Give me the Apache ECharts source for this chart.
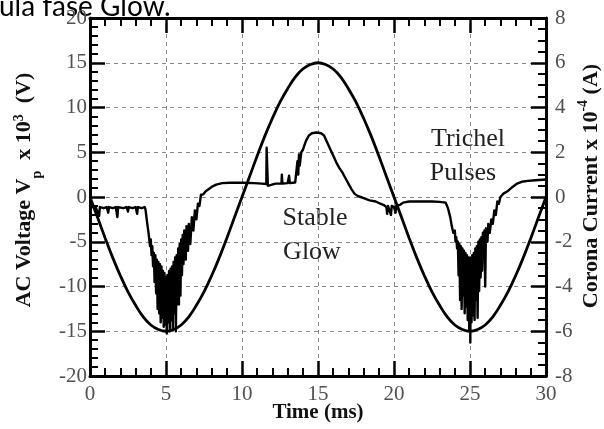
<!DOCTYPE html>
<html>
<head>
<meta charset="utf-8">
<script src="https://cdn.jsdelivr.net/npm/echarts@6/dist/echarts.min.js"></script>
<style>
  html, body { margin: 0; padding: 0; background: #ffffff; }
  #chart { width: 604px; height: 429px; }
</style>
</head>
<body>
<div id="chart"></div>
<script>
// Time axis (ms) and tick values
const timeTicks = [0, 5, 10, 15, 20, 25, 30];
const voltageTicks = [-20, -15, -10, -5, 0, 5, 10, 15, 20];
const currentTicks = [-8, -6, -4, -2, 0, 2, 4, 6, 8];

// Applied AC voltage, kV (sampled every 0.5 ms)
const voltageTime = [
  0, 0.5, 1, 1.5, 2, 2.5, 3, 3.5, 4, 4.5, 5, 5.5, 6, 6.5, 7, 7.5, 8, 8.5, 9, 9.5,
  10, 10.5, 11, 11.5, 12, 12.5, 13, 13.5, 14, 14.5, 15, 15.5, 16, 16.5, 17, 17.5, 18, 18.5, 19, 19.5,
  20, 20.5, 21, 21.5, 22, 22.5, 23, 23.5, 24, 24.5, 25, 25.5, 26, 26.5, 27, 27.5, 28, 28.5, 29, 29.5, 30
];
const voltage = [
  0, -2.3, -4.6, -6.8, -8.8, -10.6, -12.1, -13.4, -14.3, -14.8, -15.0, -14.8, -14.3, -13.4, -12.1, -10.6, -8.8, -6.8, -4.6, -2.3,
  0, 2.3, 4.6, 6.8, 8.8, 10.6, 12.1, 13.4, 14.3, 14.8, 15.0, 14.8, 14.3, 13.4, 12.1, 10.6, 8.8, 6.8, 4.6, 2.3,
  0, -2.3, -4.6, -6.8, -8.8, -10.6, -12.1, -13.4, -14.3, -14.8, -15.0, -14.8, -14.3, -13.4, -12.1, -10.6, -8.8, -6.8, -4.6, -2.3, 0
];

// Corona current, x1e-4 A
const currentTime = [
  0, 0.2, 0.4, 0.5, 0.6, 0.65, 0.9, 1.1, 1.2, 1.25, 1.5, 1.7, 1.8, 1.85, 2.2, 2.4, 2.5, 2.55, 2.8, 3.0, 3.1, 3.15, 3.4, 3.6, 3.65,
  3.75, 3.85, 3.95, 4.0, 4.05, 4.1, 4.15,
  4.2, 4.25, 4.3, 4.35, 4.4, 4.45, 4.5, 4.55, 4.6, 4.65, 4.7, 4.75, 4.8, 4.85, 4.9, 4.95, 5.0, 5.05, 5.1, 5.15,
  5.2, 5.25, 5.3, 5.35, 5.4, 5.45, 5.5, 5.55, 5.6, 5.65, 5.7, 5.75, 5.8, 5.85, 5.9, 5.95, 6.0, 6.05, 6.1, 6.15,
  6.2, 6.3, 6.35, 6.45, 6.5, 6.6, 6.7, 6.8, 6.9, 7.0, 7.1, 7.2, 7.3, 7.45, 7.6, 7.8, 8.0, 8.3, 8.7, 9.2, 10.0,
  10.8, 11.3, 11.6, 11.62, 11.68, 11.7, 11.8, 12.2, 12.6, 12.62, 12.66, 13.0, 13.1, 13.14, 13.5, 13.6, 13.65, 13.7,
  13.75, 13.8, 13.9, 14.0, 14.2, 14.4, 14.6, 14.9, 15.2, 15.4, 15.6, 15.8, 16.0, 16.2, 16.4, 16.6, 16.8, 17.0,
  17.2, 17.4, 17.6, 17.8, 18.0, 18.4, 18.8, 19.1, 19.3, 19.5, 19.55, 19.6, 19.7, 19.8, 19.85, 20.0, 20.1, 20.15,
  20.4, 20.6, 21.0, 21.5, 22.0, 22.5, 23.0, 23.4,
  23.55, 23.7, 23.8, 23.9, 24.0, 24.05, 24.1, 24.15,
  24.2, 24.25, 24.3, 24.35, 24.4, 24.45, 24.5, 24.55, 24.6, 24.65, 24.7, 24.75, 24.8, 24.85, 24.9, 24.95, 25.0, 25.02,
  25.05, 25.1, 25.15, 25.2, 25.25, 25.3, 25.35, 25.4, 25.45, 25.5, 25.55, 25.6, 25.65, 25.7, 25.75, 25.8, 25.85, 25.9,
  25.95, 26.0, 26.05, 26.15, 26.2, 26.3, 26.4, 26.5, 26.6, 26.7, 26.8, 26.9, 27.0, 27.2, 27.5, 27.8, 28.1, 28.4,
  28.8, 29.3, 30
];
const current = [
  -0.4, -0.45, -0.5, -0.45, -0.85, -0.45, -0.5, -0.45, -0.7, -0.45, -0.5, -0.45, -0.9, -0.45, -0.5, -0.45, -0.65, -0.45, -0.5, -0.45, -0.75, -0.45, -0.5, -0.45, -0.55,
  -1.1, -1.6, -2.2, -1.9, -2.6, -2.2, -3.1,
  -2.5, -3.8, -2.6, -4.3, -2.8, -5.0, -2.9, -5.2, -3.0, -5.6, -3.1, -5.4, -3.3, -5.8, -3.4, -5.7, -3.6, -6.1, -3.5, -5.6,
  -3.3, -6.0, -3.2, -5.5, -3.1, -5.9, -2.9, -5.2, -2.7, -6.0, -2.6, -4.8, -2.3, -4.8, -2.1, -4.4, -1.9, -3.5, -1.7, -3.0,
  -1.5, -2.8, -1.3, -2.4, -1.2, -2.1, -0.9, -1.5, -0.6, -1.0, -0.3, -0.4, 0.1, 0.12, 0.25, 0.35, 0.45, 0.55, 0.62, 0.64, 0.64,
  0.62, 0.6, 0.58, 2.2, 2.2, 0.5, 0.55, 0.6, 0.6, 1.0, 0.6, 0.62, 0.95, 0.62, 0.65, 0.7, 1.6, 1.0,
  1.9, 1.4, 2.0, 2.1, 2.5, 2.75, 2.85, 2.88, 2.85, 2.75, 2.45, 2.15, 1.85, 1.55, 1.3, 1.1, 0.85, 0.6,
  0.35, 0.15, 0.05, 0.0, -0.05, -0.15, -0.2, -0.3, -0.35, -0.45, -0.75, -0.4, -0.45, -0.8, -0.4, -0.45, -0.7, -0.4,
  -0.35, -0.25, -0.2, -0.2, -0.2, -0.2, -0.22, -0.25,
  -0.5, -0.9, -1.3, -1.6, -1.5, -2.0, -1.8, -2.3,
  -2.0, -3.5, -2.1, -4.6, -2.2, -5.0, -2.3, -4.4, -2.4, -5.2, -2.5, -4.9, -2.6, -5.5, -2.7, -5.9, -2.7, -6.5,
  -2.8, -5.6, -2.6, -5.3, -2.5, -5.5, -2.3, -4.6, -2.2, -5.4, -2.0, -4.2, -1.9, -3.6, -1.8, -3.3, -1.6, -2.5,
  -1.5, -4.0, -1.4, -2.0, -1.2, -1.6, -1.0, -1.2, -0.6, -0.8, -0.2, -0.3, 0.0, 0.15, 0.27, 0.45, 0.6, 0.68,
  0.72, 0.75, 0.78
];

const voltageData = voltageTime.map((t, i) => [t, voltage[i]]);
const currentData = currentTime.map((t, i) => [t, current[i]]);

const serif = 'Liberation Serif';
const frame = { onZero: false, lineStyle: { color: '#000', width: 3 } };
const majorTick = { show: true, inside: true, length: 15, lineStyle: { color: '#000', width: 2.5 } };
const minorTickOf = (n) => ({ show: true, splitNumber: n, length: 8, lineStyle: { color: '#000', width: 2 } });
const dashedGrid = { show: true, lineStyle: { color: '#8a8a8a', width: 1, type: [4, 4] } };
const tickText = { fontFamily: serif, fontSize: 21, color: '#505050' };

const titleFont = 'bold 22px "Liberation Serif"';
const smallFont = 'bold 14px "Liberation Serif"';

const chart = echarts.init(document.getElementById('chart'), null, { renderer: 'canvas' });

chart.setOption({
  animation: false,
  backgroundColor: '#ffffff',
  grid: { left: 90, right: 58, top: 18, bottom: 53, containLabel: false },
  xAxis: [
    {
      type: 'value', position: 'bottom', min: 0, max: 30, interval: 5,
      axisLine: frame, axisTick: majorTick, minorTick: minorTickOf(5),
      splitLine: dashedGrid,
      axisLabel: Object.assign({ margin: 8 }, tickText)
    },
    {
      type: 'value', position: 'top', min: 0, max: 30, interval: 5,
      axisLine: frame, axisTick: majorTick, minorTick: minorTickOf(5),
      splitLine: { show: false }, axisLabel: { show: false }
    }
  ],
  yAxis: [
    {
      type: 'value', position: 'left', min: -20, max: 20, interval: 5,
      axisLine: frame, axisTick: majorTick, minorTick: minorTickOf(5),
      splitLine: dashedGrid,
      axisLabel: Object.assign({ margin: 3 }, tickText)
    },
    {
      type: 'value', position: 'right', min: -8, max: 8, interval: 2,
      axisLine: frame, axisTick: majorTick, minorTick: minorTickOf(4),
      splitLine: { show: false },
      axisLabel: Object.assign({ margin: 9 }, tickText)
    }
  ],
  series: [
    {
      name: 'AC Voltage', type: 'line', xAxisIndex: 0, yAxisIndex: 0,
      data: voltageData, smooth: 0.4, showSymbol: false,
      lineStyle: { color: '#000', width: 2.8 }, z: 3
    },
    {
      name: 'Corona Current', type: 'line', xAxisIndex: 0, yAxisIndex: 1,
      data: currentData, smooth: false, showSymbol: false,
      lineStyle: { color: '#000', width: 2.4, join: 'round', cap: 'round' }, z: 4
    }
  ],
  graphic: [
    {
      type: 'text', left: -1, top: -7,
      style: { text: 'ula fase Glow.', font: '28px Lato', fill: '#000' }
    },
    {
      type: 'text', x: 318, y: 413,
      style: { text: 'Time (ms)', font: 'bold 21px "Liberation Serif"', fill: '#111', align: 'center', verticalAlign: 'middle' }
    },
    {
      type: 'text', x: 24, y: 190, rotation: Math.PI / 2,
      style: {
        text: '{t|AC Voltage V}{sub|p}{t|  x 10}{sup|3}{t|  (V)}',
        align: 'center', verticalAlign: 'middle',
        rich: {
          t: { font: titleFont, fill: '#111', lineHeight: 40 },
          sub: { font: smallFont, fill: '#111', lineHeight: 14, verticalAlign: 'bottom' },
          sup: { font: smallFont, fill: '#111', lineHeight: 14, verticalAlign: 'top', padding: [8, 0, 0, 0] }
        }
      }
    },
    {
      type: 'text', x: 591, y: 186, rotation: Math.PI / 2,
      style: {
        text: '{t|Corona Current x 10}{sup|-4}{t| (A)}',
        align: 'center', verticalAlign: 'middle',
        rich: {
          t: { font: titleFont, fill: '#111', lineHeight: 30 },
          sup: { font: smallFont, fill: '#111', lineHeight: 14, verticalAlign: 'top' }
        }
      }
    },
    {
      type: 'text', x: 315, y: 218,
      style: { text: 'Stable', font: '26px "Liberation Serif"', fill: '#222', align: 'center', verticalAlign: 'middle' }
    },
    {
      type: 'text', x: 312, y: 252,
      style: { text: 'Glow', font: '26px "Liberation Serif"', fill: '#222', align: 'center', verticalAlign: 'middle' }
    },
    {
      type: 'text', x: 468, y: 139,
      style: { text: 'Trichel', font: '26px "Liberation Serif"', fill: '#222', align: 'center', verticalAlign: 'middle' }
    },
    {
      type: 'text', x: 463, y: 173,
      style: { text: 'Pulses', font: '26px "Liberation Serif"', fill: '#222', align: 'center', verticalAlign: 'middle' }
    }
  ]
});
</script>
</body>
</html>
